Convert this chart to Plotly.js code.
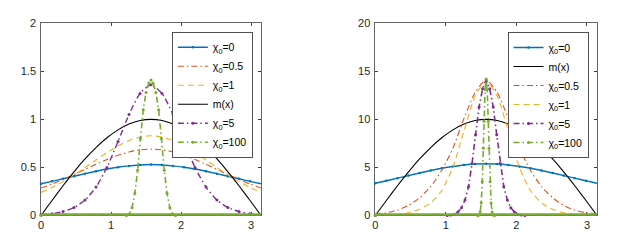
<!DOCTYPE html>
<html><head><meta charset="utf-8">
<script src="https://cdn.plot.ly/plotly-3.0.1.min.js"></script>
<style>html,body{margin:0;padding:0;background:#fff}#chart{width:628px;height:252px}</style>
</head><body><div id="chart"></div>
<script>
// ---- data ----
const xGrid = [0,0.157,0.314,0.471,0.628,0.785,0.942,1.100,1.257,1.414,1.571,1.728,1.885,2.042,2.199,2.356,2.513,2.670,2.827,2.985,3.142];

// left panel
const leftM      = [0,0.156,0.309,0.454,0.588,0.707,0.809,0.891,0.951,0.988,1.000,0.988,0.951,0.891,0.809,0.707,0.588,0.454,0.309,0.156,0];
const leftChi0   = [0.330,0.355,0.382,0.408,0.435,0.460,0.483,0.502,0.516,0.525,0.530,0.525,0.516,0.502,0.483,0.460,0.435,0.408,0.382,0.355,0.330];
const leftChi05  = [0.285,0.327,0.375,0.426,0.480,0.533,0.583,0.627,0.661,0.683,0.690,0.683,0.661,0.627,0.583,0.533,0.480,0.426,0.375,0.327,0.285];
const leftChi1   = [0.240,0.291,0.352,0.421,0.498,0.577,0.654,0.725,0.780,0.817,0.829,0.817,0.780,0.725,0.654,0.577,0.498,0.421,0.352,0.291,0.240];
const leftChi5   = [0.008,0.018,0.040,0.082,0.160,0.295,0.500,0.770,1.050,1.270,1.360,1.270,1.050,0.770,0.500,0.295,0.160,0.082,0.040,0.018,0.008];
const leftX100   = [0,1.22,1.26,1.30,1.34,1.38,1.42,1.46,1.50,1.54,1.571,1.60,1.64,1.68,1.72,1.76,1.80,1.84,1.88,1.92,3.142];
const leftChi100 = [0,0,0.015,0.08,0.23,0.47,0.80,1.10,1.28,1.38,1.41,1.38,1.28,1.10,0.80,0.47,0.23,0.08,0.015,0,0];

// right panel
const rightM      = [0,1.56,3.09,4.54,5.88,7.07,8.09,8.91,9.51,9.88,10.0,9.88,9.51,8.91,8.09,7.07,5.88,4.54,3.09,1.56,0];
const rightChi0   = [3.35,3.61,3.88,4.15,4.42,4.68,4.91,5.10,5.25,5.35,5.38,5.35,5.25,5.10,4.91,4.68,4.42,4.15,3.88,3.61,3.35];
const rightChi05  = [0.15,0.28,0.55,1.05,1.85,3.0,4.7,7.0,10.1,12.8,14.1,12.8,10.1,7.0,4.7,3.0,1.85,1.05,0.55,0.28,0.15];
const rightChi1   = [0.02,0.04,0.10,0.28,0.65,1.3,2.6,5.0,8.8,12.4,14.0,12.4,8.8,5.0,2.6,1.3,0.65,0.28,0.10,0.04,0.02];
const rightX5     = [0,1.021,1.071,1.121,1.171,1.221,1.271,1.321,1.371,1.421,1.471,1.521,1.571,1.621,1.671,1.721,1.771,1.821,1.871,1.921,1.971,2.021,2.071,2.121,3.142];
const rightChi5   = [0,0,0.04,0.12,0.35,0.8,1.6,3.0,5.4,8.4,11.3,13.2,14.1,13.2,11.3,8.4,5.4,3.0,1.6,0.8,0.35,0.12,0.04,0,0];
const rightX100   = [0,1.451,1.471,1.486,1.501,1.516,1.531,1.541,1.556,1.571,1.586,1.601,1.611,1.626,1.641,1.656,1.671,1.691,3.142];
const rightChi100 = [0,0,0.05,0.35,1.3,3.5,7.0,9.8,13.1,14.2,13.1,9.8,7.0,3.5,1.3,0.35,0.05,0,0];

const xTicks = [0,1,2,3];
const leftYTicks = [0,0.5,1,1.5,2];
const leftYLabels = ['0','0.5','1','1.5','2'];
const rightYTicks = [0,5,10,15,20];

const labChi0 = 'χ<sub>0</sub>=0', labChi05 = 'χ<sub>0</sub>=0.5', labChi1 = 'χ<sub>0</sub>=1';
const labChi5 = 'χ<sub>0</sub>=5', labChi100 = 'χ<sub>0</sub>=100', labM = 'm(x)';

// ---- styles ----
const C = {blue:'#0072BD', orange:'#D95319', yellow:'#EDB120', black:'#000000', purple:'#7E2F8E', green:'#77AC30'};
function tr(x, y, name, color, dash, width, mk, xa, ya, leg, shape){
  const t = {x:x, y:y, name:name, type:'scatter', xaxis:xa, yaxis:ya, legend:leg,
    line:{color:color, dash:dash, width:width, shape:shape||'spline', smoothing:0.6},
    mode: mk ? 'lines+markers' : 'lines', cliponaxis:false};
  if (mk) t.marker = {size:mk, color:color};
  return t;
}
const DD = '6px,3px,1.5px,3px';
const data = [
  tr(xGrid, leftChi0, labChi0, C.blue, 'solid', 1.4, 2.5, 'x','y','legend'),
  tr(xGrid, leftChi05, labChi05, C.orange, DD, 1.1, 0, 'x','y','legend'),
  tr(xGrid, leftChi1, labChi1, C.yellow, '6px,4px', 1.1, 0, 'x','y','legend'),
  tr(xGrid, leftM, labM, C.black, 'solid', 1.1, 0, 'x','y','legend'),
  tr(xGrid, leftChi5, labChi5, C.purple, DD, 1.4, 3, 'x','y','legend'),
  tr(leftX100, leftChi100, labChi100, C.green, DD, 1.6, 3, 'x','y','legend','linear'),

  tr(xGrid, rightChi0, labChi0, C.blue, 'solid', 1.4, 2.5, 'x2','y2','legend2'),
  tr(xGrid, rightM, labM, C.black, 'solid', 1.1, 0, 'x2','y2','legend2'),
  tr(xGrid, rightChi05, labChi05, C.orange, DD, 1.1, 0, 'x2','y2','legend2'),
  tr(xGrid, rightChi1, labChi1, C.yellow, '6px,4px', 1.1, 0, 'x2','y2','legend2'),
  tr(rightX5, rightChi5, labChi5, C.purple, DD, 1.6, 3, 'x2','y2','legend2','linear'),
  tr(rightX100, rightChi100, labChi100, C.green, DD, 1.6, 3, 'x2','y2','legend2','linear')
];
// thick green base line along y=0 (drawn by the green series in the reference)
[['x','y'],['x2','y2']].forEach(function(p){
  data.push({x:[xGrid[0], xGrid[xGrid.length-1]], y:[0,0], xaxis:p[0], yaxis:p[1], type:'scatter', mode:'lines',
    line:{color:C.green, width:4.5}, showlegend:false, hoverinfo:'skip'});
});

const font = {family:'Liberation Sans, Arial, sans-serif', size:11, color:'#262626'};
function ax(domain, extra){
  return Object.assign({domain:domain, showline:true, linecolor:'#404040', linewidth:0.8, mirror:'ticks',
    ticks:'inside', ticklen:3, tickcolor:'#404040', showgrid:false, zeroline:false, tickfont:font, fixedrange:true,
    layer:'below traces'}, extra);
}
const ydom = [0.145, 0.9075];
const legendBase = {bgcolor:'#ffffff', bordercolor:'#262626', borderwidth:0.8, font:{family:font.family, size:10.5, color:'#000'},
  xanchor:'left', yanchor:'top', itemwidth:30, tracegroupgap:0};
const layout = {
  width:628, height:252, margin:{l:0,r:0,t:0,b:0}, paper_bgcolor:'#fff', plot_bgcolor:'#fff', font:font,
  xaxis: ax([0.0653,0.4156], {range:[0,3.1416], tickvals:xTicks, anchor:'y'}),
  yaxis: ax(ydom, {range:[0,2], tickvals:leftYTicks, ticktext:leftYLabels, anchor:'x', ticklabelstandoff:2}),
  xaxis2: ax([0.5976,0.9506], {range:[0,3.1416], tickvals:xTicks, anchor:'y2'}),
  yaxis2: ax(ydom, {range:[0,20], tickvals:rightYTicks, anchor:'x2', ticklabelstandoff:2}),
  legend: Object.assign({}, legendBase, {x:0.274, y:0.873}),
  legend2: Object.assign({}, legendBase, {x:0.8085, y:0.872}),
  showlegend:true
};
Plotly.newPlot('chart', data, layout, {staticPlot:true, displayModeBar:false});
</script></body></html>
